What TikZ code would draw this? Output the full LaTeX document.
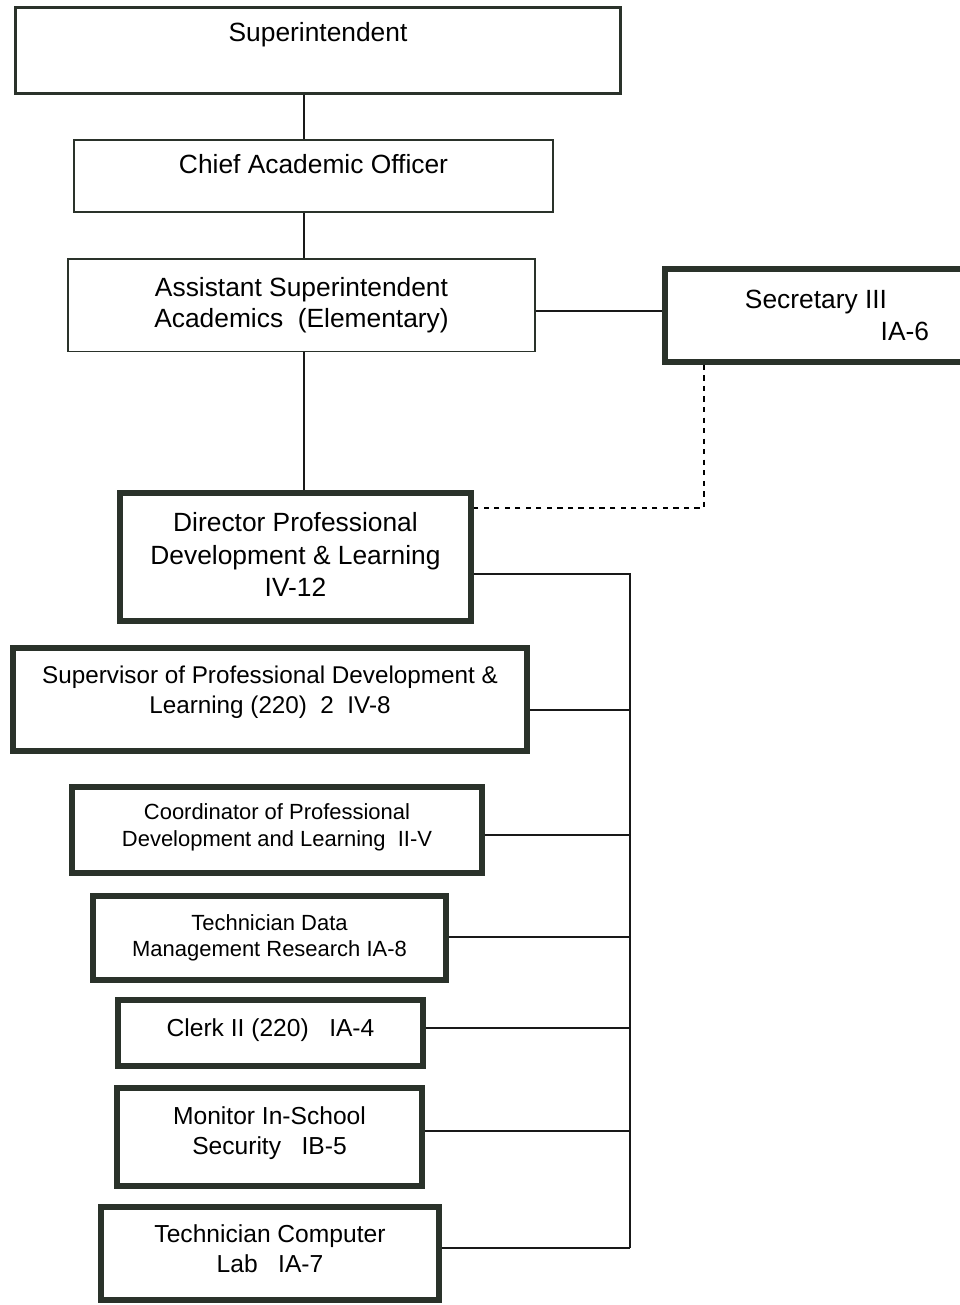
\documentclass[tikz,border=0pt]{standalone}
\usepackage{fontspec}
\setmainfont{Liberation Sans}
\usepackage{tikz}
\usetikzlibrary{positioning}

\definecolor{boxline}{RGB}{42,50,42}

\tikzset{
  post/.style={draw=boxline, rectangle, align=center, inner sep=2pt,
    font=\fontsize{15}{18}\selectfont},
  heavypost/.style={post, line width=3.2pt},
  midpost/.style={heavypost, font=\fontsize{14}{17}\selectfont},
  smallpost/.style={heavypost, font=\fontsize{12.5}{15}\selectfont},
  link/.style={line width=0.8pt, draw=black!90},
}

\begin{document}
\begin{tikzpicture}[x=0.02cm, y=-0.02cm]
    \useasboundingbox (0,0) rectangle (960,1305);

    % top of the chain
    \node[post, line width=1.7pt, minimum width=12.1cm, minimum height=1.72cm, text depth=0.75cm] (supt) at (318,50.5) {Superintendent};
    \node[post, line width=1.1pt, minimum width=9.58cm, minimum height=1.44cm, text depth=0.48cm] (cao) at (313.5,176) {Chief Academic Officer};
    \node[post, line width=0.85pt, minimum width=9.35cm, minimum height=1.85cm] (asst) at (301.5,305) {Assistant Superintendent\\Academics\ \ (Elementary)};
    \node[heavypost, minimum width=6.88cm, minimum height=1.86cm, align=right] (sec) at (837,315.5) {Secretary III\hspace*{0.84cm}\\IA-6};

    % director and staff
    \node[heavypost, font=\fontsize{15}{18.5}\selectfont, minimum width=7.02cm, minimum height=2.56cm, text depth=0.1cm] (dir) at (295.5,557) {Director Professional\\Development \& Learning\\IV-12};
    \node[midpost, font=\fontsize{13.8}{17}\selectfont, minimum width=10.28cm, minimum height=2.06cm, text depth=0.4cm] (sup) at (270,699.5) {Supervisor of Professional Development \&\\Learning (220)\ \ 2\ \ IV-8};
    \node[smallpost, minimum width=8.2cm, minimum height=1.72cm, text depth=0.2cm] (coord) at (277,830) {Coordinator of Professional\\Development and Learning\ \ II-V};
    \node[smallpost, minimum width=7.06cm, minimum height=1.68cm] (tech) at (269.5,938) {Technician Data\\Management Research IA-8};
    \node[midpost, minimum width=6.1cm, minimum height=1.32cm, text depth=0.2cm] (clerk) at (270.5,1033) {Clerk II (220)\ \ \ IA-4};
    \node[midpost, minimum width=6.1cm, minimum height=1.96cm, text depth=0.25cm] (monitor) at (269.5,1137) {Monitor In-School\\Security\ \ \ IB-5};
    \node[midpost, minimum width=6.76cm, minimum height=1.86cm, text depth=0.2cm] (lab) at (270,1253.5) {Technician Computer\\Lab\ \ \ IA-7};

    \coordinate (spine) at (304,0);
    \coordinate (bend) at (704,508);
    \coordinate (bus) at (630,574);

    \draw[link] (supt.south -| spine) -- (cao.north -| spine);
    \draw[link] (cao.south -| spine) -- (asst.north -| spine);
    \draw[link] (asst.south -| spine) -- (dir.north -| spine);
    \draw[link] ([yshift=-0.12cm]asst.east) -- ([yshift=-0.12cm]asst.east -| sec.west);
    \draw[dashed, line width=0.6pt] (sec.south -| bend) -- (bend) -- (dir.east |- bend);

    \draw[link] (dir.east |- bus) -- (bus) -- ([yshift=0.11cm]bus |- lab.east);
    \foreach \n/\d in {sup/-0.21, coord/-0.1, tech/0.02, clerk/0.1, monitor/0.12, lab/0.11}
        \draw[link] ([yshift=\d cm]\n.east) -- ([yshift=\d cm]\n.east -| bus);
\end{tikzpicture}
\end{document}
